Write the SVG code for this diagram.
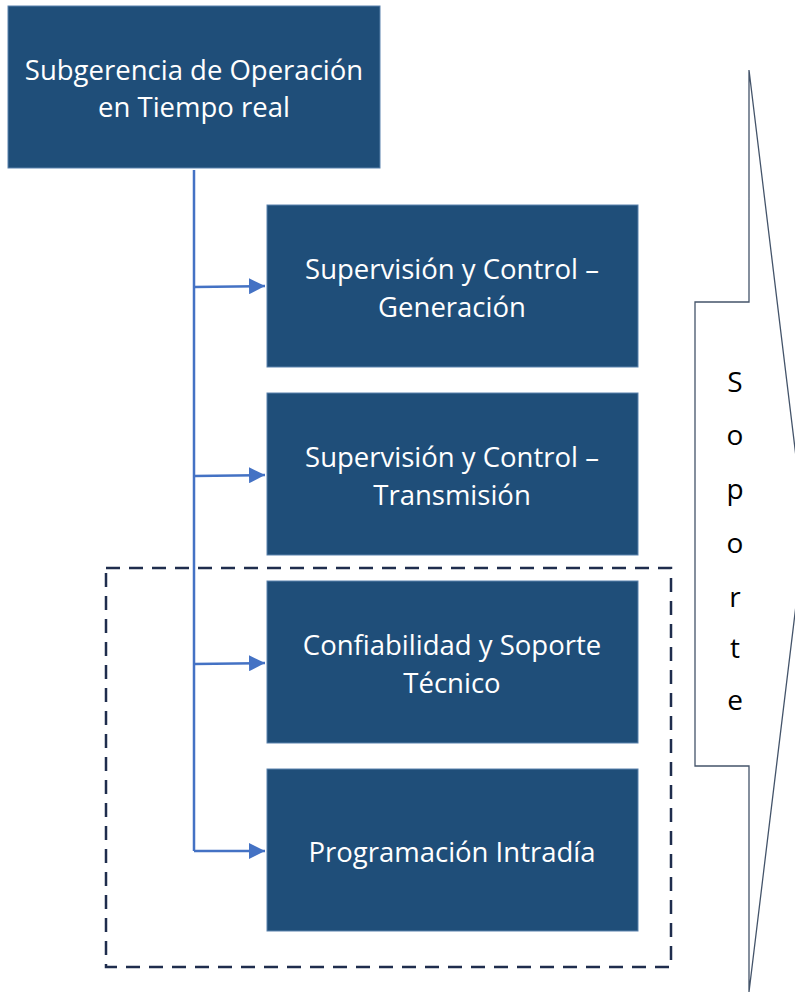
<svg xmlns="http://www.w3.org/2000/svg" width="795" height="993" viewBox="0 0 795 993">
<defs>
<style>
.box{fill:#1F4E79;stroke:#5B82AD;stroke-width:1}
.lbl{fill:#FFFFFF;font-family:"Open Sans","Noto Sans","DejaVu Sans",sans-serif;font-size:27.5px;text-anchor:middle}
.con{fill:none;stroke:#4472C4;stroke-width:2.5}
.sop{fill:#000000;font-family:"Open Sans","Noto Sans","DejaVu Sans",sans-serif;font-size:28px;text-anchor:middle}
</style>
<marker id="ah" viewBox="0 0 10 10" refX="10" refY="5" markerWidth="6.4" markerHeight="6.4" markerUnits="strokeWidth" orient="auto">
<path d="M0,0 L10,5 L0,10 Z" fill="#4472C4"/>
</marker>
</defs>
<rect width="795" height="993" fill="#FFFFFF"/>
<g id="soporte">
<path d="M749,70 L805,531 L749,992 L749,766 L695,766 L695,302 L749,302 Z" fill="#FFFFFF" stroke="#44546A" stroke-width="1.3" stroke-linejoin="miter"/>
<text class="sop" x="735" y="392">S</text>
<text class="sop" x="735" y="445">o</text>
<text class="sop" x="735" y="499">p</text>
<text class="sop" x="735" y="553">o</text>
<text class="sop" x="735" y="607">r</text>
<text class="sop" x="735" y="658">t</text>
<text class="sop" x="735" y="710">e</text>
</g>
<g id="grupo">
<rect x="106" y="568" width="565" height="399" fill="none" stroke="#1F2D4D" stroke-width="2.5" stroke-dasharray="14 9"/>
</g>
<g id="connectors">
<path class="con" d="M194,170 L194,851"/>
<path class="con" d="M194,287 L265,286" marker-end="url(#ah)"/>
<path class="con" d="M194,476 L265,475" marker-end="url(#ah)"/>
<path class="con" d="M194,664 L265,663" marker-end="url(#ah)"/>
<path class="con" d="M194,851 L265,851" marker-end="url(#ah)"/>
</g>
<g id="n0">
<rect class="box" x="8" y="6" width="372" height="162"/>
<text class="lbl" x="194" y="80">Subgerencia de Operación</text>
<text class="lbl" x="194" y="117">en Tiempo real</text>
</g>
<g id="n1">
<rect class="box" x="267" y="205" width="371" height="162"/>
<text class="lbl" x="452" y="279">Supervisión y Control –</text>
<text class="lbl" x="452" y="317">Generación</text>
</g>
<g id="n2">
<rect class="box" x="267" y="393" width="371" height="162"/>
<text class="lbl" x="452" y="467">Supervisión y Control –</text>
<text class="lbl" x="452" y="505">Transmisión</text>
</g>
<g id="n3">
<rect class="box" x="267" y="581" width="371" height="162"/>
<text class="lbl" x="452" y="655">Confiabilidad y Soporte</text>
<text class="lbl" x="452" y="693">Técnico</text>
</g>
<g id="n4">
<rect class="box" x="267" y="769" width="371" height="162"/>
<text class="lbl" x="452" y="862">Programación Intradía</text>
</g>
</svg>
